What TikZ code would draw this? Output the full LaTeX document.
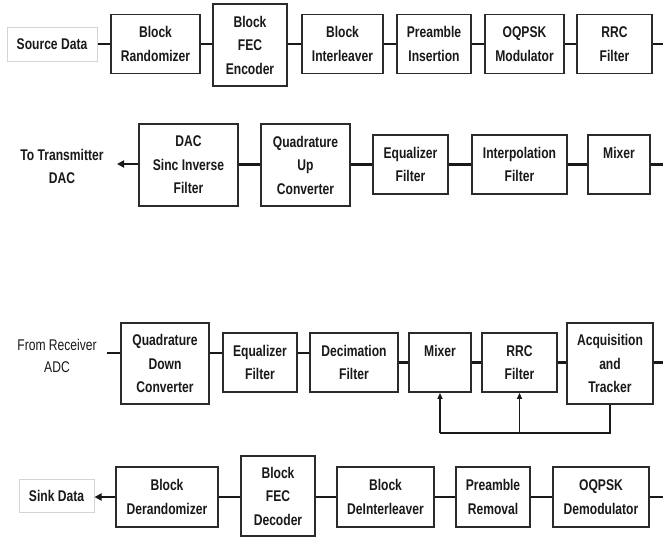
\documentclass[tikz,border=0pt]{standalone}
\usepackage{fontspec}
\setmainfont{Liberation Sans}[FakeStretch=0.78]
\usetikzlibrary{arrows.meta}
\definecolor{boxc}{HTML}{2B2B2B}
\definecolor{lightc}{HTML}{D4D4D4}
\begin{document}
\begin{tikzpicture}[x=1pt,y=-1pt,
  txt/.style={font=\fontsize{15.5}{23.5}\selectfont\bfseries, align=center, text=black!90},
  blk/.style={txt, draw=boxc, line width=1.8pt, fill=white, inner sep=0pt},
  io/.style={txt, draw=lightc, line width=1pt, inner sep=0pt},
  lbl/.style={align=center, text=black!90},
  conn/.style={line width=2.4pt, draw=black!90},
  arr/.style={conn, -{Triangle[length=7pt,width=7pt]}},
  fb/.style={line width=1.6pt, draw=black!90},
  fbarr/.style={fb, -{Triangle[length=6pt,width=5pt]}}]
\useasboundingbox (0,0) rectangle (663,536);

% Row 1
\node[io, minimum width=90pt, minimum height=34pt] (src) at (52,44) {Source Data};
\node[blk, minimum width=89pt, minimum height=59pt] (r1a) at (155.5,44) {Block\\Randomizer};
\node[blk, minimum width=74pt, minimum height=82pt] (r1b) at (250,45) {Block\\FEC\\Encoder};
\node[blk, minimum width=81pt, minimum height=59pt] (r1c) at (342.5,44) {Block\\Interleaver};
\node[blk, minimum width=74pt, minimum height=59pt] (r1d) at (434,44) {Preamble\\Insertion};
\node[blk, minimum width=79pt, minimum height=59pt] (r1e) at (524.5,44) {OQPSK\\Modulator};
\node[blk, minimum width=75pt, minimum height=59pt] (r1f) at (614.5,44) {RRC\\Filter};
\coordinate (r1out) at (663,44);
\draw[conn] (src) -- (r1a);
\draw[conn] (r1a) -- (r1b.west |- r1a);
\draw[conn] (r1b.east |- r1a) -- (r1c);
\draw[conn] (r1c) -- (r1d);
\draw[conn] (r1d) -- (r1e);
\draw[conn] (r1e) -- (r1f);
\draw[conn] (r1f) -- (r1out);

% Row 2
\node[lbl, font=\fontsize{15.5}{23}\selectfont\bfseries] (todac) at (62,166) {To Transmitter\\DAC};
\coordinate (totip) at (117,164);
\node[blk, minimum width=99pt, minimum height=82pt] (t1) at (188.5,165) {DAC\\Sinc Inverse\\Filter};
\node[blk, minimum width=89pt, minimum height=82pt] (t2) at (305.5,165) {Quadrature\\Up\\Converter};
\node[blk, minimum width=75pt, minimum height=59pt] (t3) at (410.5,164.5) {Equalizer\\Filter};
\node[blk, minimum width=95pt, minimum height=59pt] (t4) at (519.5,164.5) {Interpolation\\Filter};
\node[blk, minimum width=62pt, minimum height=59pt] (t5) at (619,164.5) {Mixer\\\mbox{}};
\coordinate (r2out) at (663,164.5);
\draw[arr] (t1.west |- totip) -- (totip);
\draw[conn] (t1.east |- t3) -- (t2.west |- t3);
\draw[conn] (t2.east |- t3) -- (t3);
\draw[conn] (t3) -- (t4);
\draw[conn] (t4) -- (t5);
\draw[conn] (t5) -- (r2out);

% Row 3
\node[lbl, font=\fontsize{15.5}{21.5}\selectfont] (fromadc) at (57,356) {From Receiver\\ADC};
\coordinate (fromc) at (107,353);
\node[blk, minimum width=88pt, minimum height=81pt] (q1) at (165,363.5) {Quadrature\\Down\\Converter};
\node[blk, minimum width=74pt, minimum height=59pt] (q2) at (260,362.5) {Equalizer\\Filter};
\node[blk, minimum width=88pt, minimum height=59pt] (q3) at (354,362.5) {Decimation\\Filter};
\node[blk, minimum width=62pt, minimum height=59pt] (q4) at (440,362.5) {Mixer\\\mbox{}};
\node[blk, minimum width=75pt, minimum height=59pt] (q5) at (519.5,362.5) {RRC\\Filter};
\node[blk, minimum width=86pt, minimum height=81pt] (q6) at (610,363.5) {Acquisition\\and\\Tracker};
\coordinate (r3out) at (663,362.5);
\draw[conn] (fromc) -- (q1.west |- fromc);
\draw[conn] (q1.east |- fromc) -- (q2.west |- fromc);
\draw[conn] (q2.east |- fromc) -- (q3.west |- fromc);
\draw[conn] (q3) -- (q4);
\draw[conn] (q4) -- (q5);
\draw[conn] (q5) -- (q6.west |- q5);
\draw[conn] (q6.east |- q5) -- (r3out);
\coordinate (fbL) at (440,433);
\draw[fb] (q6.south) |- (fbL);
\draw[fbarr] (fbL) -- (q4.south);
\draw[fbarr] (q5.south |- fbL) -- (q5.south);

% Row 4
\node[io, minimum width=75pt, minimum height=33pt] (sink) at (56.5,496) {Sink Data};
\node[blk, minimum width=102pt, minimum height=60pt] (d1) at (167,497) {Block\\Derandomizer};
\node[blk, minimum width=74pt, minimum height=80pt] (d2) at (278,496) {Block\\FEC\\Decoder};
\node[blk, minimum width=97pt, minimum height=60pt] (d3) at (385.5,497) {Block\\DeInterleaver};
\node[blk, minimum width=74pt, minimum height=60pt] (d4) at (493,497) {Preamble\\Removal};
\node[blk, minimum width=96pt, minimum height=60pt] (d5) at (601,497) {OQPSK\\Demodulator};
\coordinate (r4out) at (663,497);
\draw[arr] (d1) -- (sink.east |- d1);
\draw[conn] (d1) -- (d2.west |- d1);
\draw[conn] (d2.east |- d1) -- (d3);
\draw[conn] (d3) -- (d4);
\draw[conn] (d4) -- (d5);
\draw[conn] (d5) -- (r4out);
\end{tikzpicture}
\end{document}
